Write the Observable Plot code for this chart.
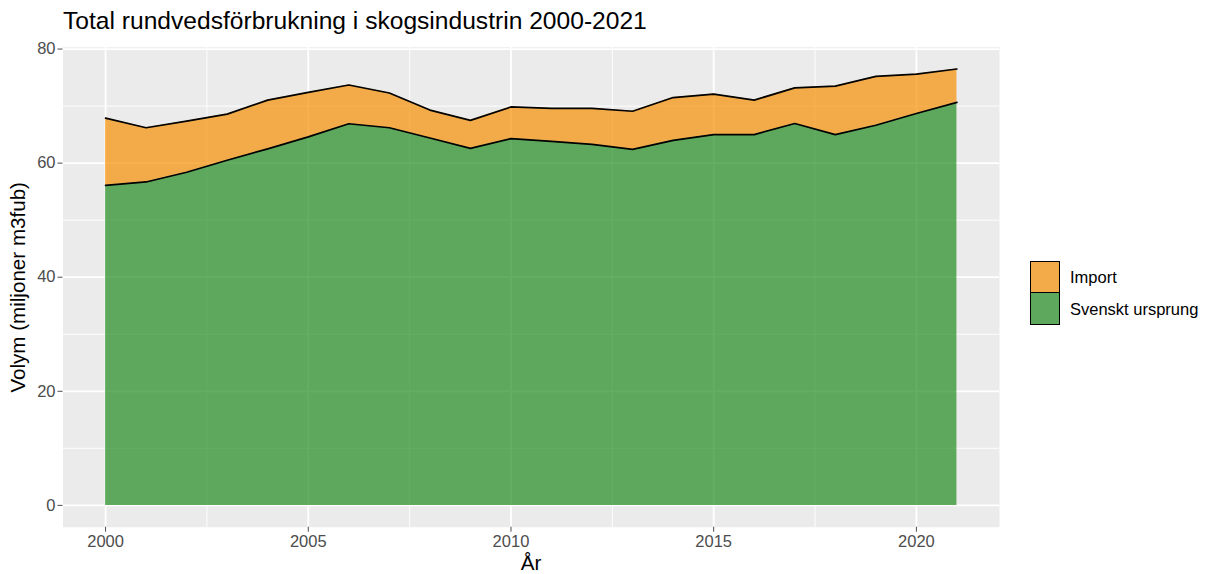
<!DOCTYPE html>
<html><head><meta charset="utf-8">
<script src="https://cdn.jsdelivr.net/npm/d3@7"></script>
<script src="https://cdn.jsdelivr.net/npm/@observablehq/plot@0.6"></script>
<style>
body{margin:0;background:#fff;font-family:"Liberation Sans",Arial,sans-serif;}
#wrap{position:relative;width:1205px;height:574px;overflow:hidden;}
#chart{position:absolute;left:0;top:0;}
#title{position:absolute;left:63px;top:9px;font-size:24.6px;line-height:1;color:#000;white-space:nowrap;}
#xlab{position:absolute;left:431px;width:200px;top:552px;text-align:center;font-size:20.6px;line-height:22px;color:#000;}
#ylab{position:absolute;left:-182px;width:400px;top:277px;text-align:center;font-size:20.6px;line-height:1;color:#000;transform:rotate(-90deg);}
#legend{position:absolute;left:1030px;top:261px;}
.row{display:flex;align-items:center;height:32px;}
.key{width:28px;height:30px;border:1.5px solid #000;background:#EBEBEB;position:relative;box-sizing:content-box;}
.key span{position:absolute;inset:0;opacity:0.7;}
.row + .row .key{border-top:none;height:31.5px;}
.lab{margin-left:10px;font-size:16.5px;color:#000;white-space:nowrap;}
</style></head>
<body>
<div id="wrap">
  <div id="chart"></div>
  <div id="title">Total rundvedsförbrukning i skogsindustrin 2000-2021</div>
  <div id="xlab">År</div>
  <div id="ylab">Volym (miljoner m3fub)</div>
  <div id="legend"></div>
</div>
<script>
// ---- data ----
const years = [2000,2001,2002,2003,2004,2005,2006,2007,2008,2009,2010,2011,2012,2013,2014,2015,2016,2017,2018,2019,2020,2021];
const svensktUrsprung = [56.1,56.7,58.4,60.5,62.5,64.6,66.9,66.2,64.4,62.6,64.3,63.8,63.3,62.4,64.0,65.0,65.0,66.95,65.0,66.65,68.7,70.65];
const importVolym = [11.8,9.5,8.95,8.1,8.55,7.8,6.8,6.1,4.9,4.9,5.55,5.8,6.3,6.7,7.5,7.1,6.05,6.25,8.5,8.55,6.9,5.85];
const seriesNames = ["Import","Svenskt ursprung"];
const seriesColors = ["#F69006","#228B22"];
const stackOrder = ["Svenskt ursprung","Import"];
const xMajor = [2000,2005,2010,2015,2020];
const xMinor = [2002.5,2007.5,2012.5,2017.5];
const yMajor = [0,20,40,60,80];
const yMinor = [10,30,50,70];

const rows = [];
years.forEach((y,i)=>{
  rows.push({year:y,type:"Svenskt ursprung",value:svensktUrsprung[i]});
  rows.push({year:y,type:"Import",value:importVolym[i]});
});
const totals = years.map((y,i)=>svensktUrsprung[i]+importVolym[i]);
const ymax = d3.max(totals);
const xpad = (d3.max(years)-d3.min(years))*0.05;

const chart = Plot.plot({
  width:1205, height:574,
  marginLeft:62.5, marginRight:206, marginTop:46.7, marginBottom:47.3,
  style:{fontFamily:'"Liberation Sans",Arial,sans-serif', background:"transparent"},
  x:{domain:[d3.min(years)-xpad, d3.max(years)+xpad], label:null},
  y:{domain:[-ymax*0.05, ymax*1.05], label:null},
  color:{domain:seriesNames, range:seriesColors},
  marks:[
    Plot.frame({fill:"#EBEBEB", stroke:null}),
    Plot.ruleX(xMinor,{stroke:"#fff",strokeWidth:0.9}),
    Plot.ruleY(yMinor,{stroke:"#fff",strokeWidth:0.9}),
    Plot.ruleX(xMajor,{stroke:"#fff",strokeWidth:1.8}),
    Plot.ruleY(yMajor,{stroke:"#fff",strokeWidth:1.8}),
    Plot.areaY(rows,{x:"year",y:"value",fill:"type",fillOpacity:0.7,order:stackOrder}),
    Plot.lineY(rows,Plot.stackY2({x:"year",y:"value",z:"type",order:stackOrder,stroke:"#000",strokeWidth:1.7})),
    Plot.axisX(xMajor,{tickSize:5,tickPadding:3,fontSize:16.5,color:"#4D4D4D",tickFormat:d=>String(d),label:null}),
    Plot.axisY(yMajor,{tickSize:5,tickPadding:2.5,fontSize:16.5,color:"#4D4D4D",label:null})
  ]
});
document.getElementById("chart").appendChild(chart);

const legend = document.getElementById("legend");
seriesNames.forEach((n,i)=>{
  const r = document.createElement("div"); r.className="row";
  const k = document.createElement("div"); k.className="key";
  const s = document.createElement("span"); s.style.background=seriesColors[i];
  k.appendChild(s);
  const l = document.createElement("div"); l.className="lab"; l.textContent=n;
  r.appendChild(k); r.appendChild(l); legend.appendChild(r);
});
</script>
</body></html>
